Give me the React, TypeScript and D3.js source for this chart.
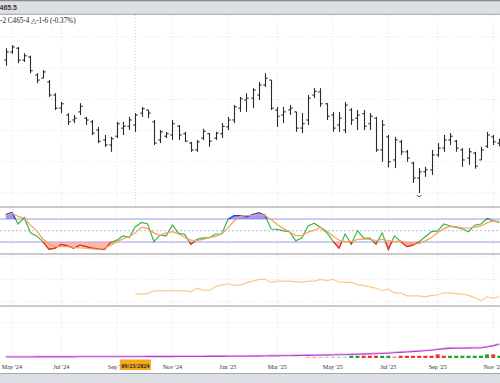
import React from 'react';
import * as d3 from 'd3';

// ---- data (weekly bars, Mondays) ----
const START = new Date(2024, 3, 29);
const END = new Date(2025, 10, 11);
const TICK_MONTHS = [0, 2, 4, 6, 8, 10];
const CROSS_DATE = new Date(2024, 8, 23);
const CROSS_LABEL = '09/23/2024';
const HEADER_PRICE = '465.5';
const HEADER_TEXT = '-2 C465-4 \u25B3-1-6 (-0.37%)';

const OPEN = [593, 606, 612, 593, 598, 569, 564, 558, 537, 516,
  505, 497, 510, 500, 494, 481, 465, 457, 471, 484,
  487, 489, 508, 513, 494, 465, 471, 473, 487, 475,
  460, 449, 468, 475, 468, 475, 486, 497, 516, 529,
  532, 537, 553, 561, 513, 505, 513, 510, 484, 497,
  537, 542, 523, 505, 489, 481, 513, 500, 507, 491,
  500, 449, 470, 433, 462, 446, 428, 404, 414, 417,
  441, 452, 465, 463, 449, 436, 444, 433, 455, 470,
  460];
const HIGH = [612, 617, 614, 604, 600, 572, 577, 561, 540, 526,
  508, 505, 524, 502, 497, 486, 473, 470, 494, 494,
  502, 508, 518, 513, 497, 481, 478, 497, 489, 478,
  462, 465, 483, 476, 478, 492, 502, 521, 534, 540,
  548, 558, 572, 561, 518, 518, 521, 510, 508, 537,
  548, 548, 524, 510, 510, 526, 516, 513, 513, 508,
  502, 497, 473, 470, 465, 449, 430, 420, 422, 449,
  460, 473, 476, 465, 452, 452, 446, 454, 478, 473,
  467];
const LOW = [584, 603, 588, 590, 572, 556, 564, 534, 513, 508,
  489, 492, 505, 489, 473, 460, 454, 446, 468, 473,
  481, 478, 502, 500, 457, 460, 468, 465, 465, 462,
  446, 446, 465, 454, 465, 468, 481, 492, 510, 510,
  516, 529, 550, 513, 486, 492, 505, 478, 476, 489,
  532, 518, 497, 478, 478, 476, 489, 481, 481, 481,
  446, 430, 421, 420, 441, 430, 396, 380, 406, 409,
  438, 446, 457, 446, 422, 425, 419, 433, 452, 457,
  455];
const CLOSE = [606, 614, 593, 600, 576, 561, 574, 537, 516, 523,
  494, 500, 519, 497, 476, 463, 457, 467, 491, 487,
  497, 505, 515, 508, 460, 478, 475, 491, 473, 463,
  449, 462, 479, 463, 476, 487, 497, 518, 531, 532,
  545, 553, 564, 516, 503, 510, 516, 484, 491, 532,
  543, 523, 503, 484, 500, 521, 497, 505, 487, 503,
  449, 489, 430, 465, 446, 436, 404, 414, 417, 441,
  452, 465, 471, 452, 433, 446, 423, 449, 473, 462,
  465.5];

const STOCH_K = [92, 97, 67, 83, 44, 36, 21, 1, 4, 14,
  10, 4, 12, 8, 4, 2, 1, 19, 25, 36,
  32, 60, 71, 67, 21, 38, 36, 64, 43, 40,
  14, 27, 31, 31, 41, 41, 79, 89, 89, 86,
  92, 96, 90, 54, 53, 49, 47, 23, 31, 62,
  69, 58, 45, 23, 4, 41, 15, 50, 30, 30,
  15, 44, 1, 36, 21, 8, 12, 21, 34, 47,
  49, 67, 62, 58, 54, 47, 64, 67, 81, 76,
  71];
const STOCH_D = [89, 95, 87, 82, 64, 49, 28, 15, 8, 8,
  8, 6, 5, 4, 2, 1, 4, 12, 21, 28,
  34, 44, 59, 55, 44, 37, 44, 47, 41, 32,
  25, 24, 27, 32, 35, 41, 57, 75, 87, 89,
  90, 93, 89, 79, 66, 55, 46, 37, 37, 46,
  51, 59, 49, 36, 25, 21, 21, 27, 28, 27,
  24, 27, 24, 21, 23, 17, 15, 16, 23, 32,
  45, 55, 61, 60, 57, 56, 59, 62, 70, 75,
  74];
const STOCH_BANDS = [20, 50, 80];

const PANE3_START = 21;
const PANE3 = [317, 317, 318, 324, 324, 324, 325, 324, 324, 322,
  330, 326, 325, 334, 337, 340, 337, 337, 342, 346,
  350, 350, 343, 346, 346, 346, 345, 343, 346, 346,
  350, 347, 350, 344, 343, 343, 338, 336, 333, 330,
  325, 328, 319, 320, 313, 313, 313, 311, 314, 315,
  320, 319, 318, 317, 314, 309, 302, 311, 308, 311];
const PANE3_GRID = [300, 350, 400];

const PURPLE = [0, 0, 0, 0, 0, 0.6, 0.6, 0.6, 0.6, 0.6,
  0.6, 0.6, 1.2, 1.2, 1.2, 1.2, 1.2, 1.2, 1.7, 1.7,
  1.7, 1.7, 1.7, 2.3, 2.3, 2.3, 2.3, 2.3, 2.9, 2.9,
  2.9, 2.9, 2.9, 3.5, 3.5, 3.5, 4, 4, 4.6, 4.6,
  5.2, 5.2, 5.8, 6.4, 6.4, 7, 7.5, 8.1, 8.7, 9.3,
  9.9, 10.4, 11, 11.6, 12.8, 13.3, 14.5, 15.7, 16.8, 18,
  19.1, 20.3, 22, 24.4, 26.7, 29, 31.3, 33.6, 36, 38.9,
  43.5, 47.6, 50.5, 51, 51, 51.6, 52.2, 52.8, 58, 65,
  74];
const HIST_START = 49;
const HIST = [-0.3, -0.3, -0.3, 0.3, 0.3, 0.3, 0.3, 1, 1, -1,
  -1, -1, 1, 1, -0.5, -1, -1, -1, -1, -1,
  -1, -2, -1, 1, 1, 1, 1, 1, 1, 2,
  -2, 1];
const PANE4_GRID = [200];
const PRICE_GRID = [380, 430, 480, 530, 580, 630];

export default function App() {
  const W = 500, H = 383;
  const DATES = d3.timeMonday.range(START, END);
  const x = d3.scaleTime().domain([DATES[0], DATES[DATES.length - 1]]).range([5.8, 499.4]);
  const yP = d3.scaleLinear().domain([380, 630]).range([193, 37]);
  const yS = d3.scaleLinear().domain([0, 100]).range([249.7, 211.4]);
  const y3 = d3.scaleLinear().domain([300, 400]).range([301.7, 256.9]);
  const y4 = d3.scaleLinear().domain([0, 300]).range([357, 305.5]);
  const hH = d3.scaleLinear().domain([0, 2]).range([0.9, 3.6]);
  const hOp = d3.scaleLinear().domain([0.3, 1]).range([0.35, 0.95]).clamp(true);

  const ticks = DATES.filter(d => d.getDate() <= 7 && TICK_MONTHS.includes(d.getMonth()));
  const fmt = d3.timeFormat("%b '%y");

  const xi = (i: number) => x(DATES[i]);
  const kLine = d3.line<number>().x((d, i) => xi(i)).y(d => yS(d));
  const areaUp = d3.area<number>().x((d, i) => xi(i)).y0(yS(80)).y1(d => yS(d));
  const areaDn = d3.area<number>().x((d, i) => xi(i)).y0(yS(20)).y1(d => yS(d));
  const p3Line = d3.line<number>().x((d, i) => xi(i + PANE3_START)).y(d => y3(d)).curve(d3.curveLinear);
  const p4Line = d3.line<number>().x((d, i) => xi(i)).y(d => y4(d));

  const lowIdx = d3.minIndex(LOW);
  const lx = xi(lowIdx), ly = yP(LOW[lowIdx]);
  const cx = x(CROSS_DATE);

  const serif = "'Liberation Serif', 'Times New Roman', serif";
  const sans = "'Liberation Sans', Arial, sans-serif";

  return (
    <svg width={W} height={H} style={{ position: 'absolute', left: 0, top: 0, background: '#fff' }}
      xmlns="http://www.w3.org/2000/svg">
      <defs>
        <clipPath id="above80"><rect x={0} y={207} width={W} height={yS(80) - 207} /></clipPath>
        <clipPath id="below20"><rect x={0} y={yS(20)} width={W} height={254 - yS(20)} /></clipPath>
        <clipPath id="stochPane"><rect x={0} y={207} width={W} height={47} /></clipPath>
      </defs>
      <rect x={0} y={0} width={W} height={H} fill="#fff" />

      {/* vertical grid */}
      {ticks.map((d, i) => (
        <line key={'vg' + i} x1={x(d)} x2={x(d)} y1={15} y2={357} stroke="#dedede" strokeWidth={0.8} strokeDasharray="1,2" />
      ))}
      {/* horizontal price grid */}
      {PRICE_GRID.map((p, i) => (
        <line key={'hg' + i} x1={0} x2={W} y1={yP(p)} y2={yP(p)} stroke="#dedede" strokeWidth={0.8} strokeDasharray="1,2" />
      ))}
      {PANE3_GRID.map((p, i) => (
        <line key={'g3' + i} x1={0} x2={W} y1={y3(p)} y2={y3(p)} stroke="#dedede" strokeWidth={0.8} strokeDasharray="1,2" />
      ))}
      {PANE4_GRID.map((p, i) => (
        <line key={'g4' + i} x1={0} x2={W} y1={y4(p)} y2={y4(p)} stroke="#dedede" strokeWidth={0.8} strokeDasharray="1,2" />
      ))}

      {/* crosshair */}
      <line x1={cx} x2={cx} y1={15} y2={207} stroke="#ffcf80" strokeWidth={1} strokeDasharray="1,2" />

      {/* OHLC bars */}
      <g stroke="#2b2b2b" strokeWidth={1.1}>
        {DATES.map((d, i) => {
          const bx = Math.round(xi(i)) + 0.5;
          return (
            <g key={'b' + i}>
              <line x1={bx} x2={bx} y1={yP(HIGH[i])} y2={yP(LOW[i])} />
              <line x1={bx - 2.2} x2={bx} y1={yP(OPEN[i])} y2={yP(OPEN[i])} />
              <line x1={bx} x2={bx + 2.2} y1={yP(CLOSE[i])} y2={yP(CLOSE[i])} />
            </g>
          );
        })}
      </g>
      {/* swing low marker */}
      <path d={`M${lx - 2.2},${ly + 2} Q${lx},${ly + 5.5} ${lx + 2.2},${ly + 2}`} fill="none" stroke="#333" strokeWidth={0.9} />

      {/* pane separators */}
      {[207, 254, 306].map((y, i) => (
        <line key={'sep' + i} x1={0} x2={W} y1={y} y2={y} stroke="#b8b8b8" strokeWidth={1.4} />
      ))}

      {/* stochastic pane */}
      <g clipPath="url(#stochPane)">
        {STOCH_BANDS.map((b, i) => (
          <line key={'sb' + i} x1={0} x2={W} y1={yS(b)} y2={yS(b)} stroke={b === 50 ? '#c4c4ec' : '#9c9cdc'}
            strokeWidth={b === 50 ? 1.2 : 1} strokeDasharray={b === 50 ? '2,2' : undefined} />
        ))}
        <path d={areaUp(STOCH_K) || ''} fill="#7a7aff" fillOpacity={0.75} clipPath="url(#above80)" />
        <path d={areaDn(STOCH_K) || ''} fill="#ff9a9a" fillOpacity={0.7} clipPath="url(#below20)" />
        <path d={kLine(STOCH_K) || ''} fill="none" stroke="#3cb54a" strokeWidth={1.2} />
        <path d={kLine(STOCH_K) || ''} fill="none" stroke="#3333ff" strokeWidth={1.2} clipPath="url(#above80)" />
        <path d={kLine(STOCH_K) || ''} fill="none" stroke="#ff2020" strokeWidth={1.2} clipPath="url(#below20)" />
        <path d={kLine(STOCH_D) || ''} fill="none" stroke="#f8a05a" strokeWidth={1.2} />
      </g>

      {/* pane 3 */}
      <path d={p3Line(PANE3) || ''} fill="none" stroke="#ffc888" strokeWidth={1.2} />

      {/* pane 4 histogram dashes */}
      {HIST.map((v, k) => {
        const i = k + HIST_START;
        const h = hH(Math.abs(v));
        return (
          <rect key={'h' + k} x={xi(i) - 2} y={358 - h} width={4} height={h}
            fill={v >= 0 ? '#14a01e' : '#ee2a1e'} fillOpacity={hOp(Math.abs(v))} />
        );
      })}
      <path d={p4Line(PURPLE) || ''} fill="none" stroke="#f0a8f0" strokeWidth={1} transform="translate(0,-0.8)" />
      <path d={p4Line(PURPLE) || ''} fill="none" stroke="#b43cd2" strokeWidth={1.1} />

      {/* x axis labels */}
      {ticks.map((d, i) => (
        <text key={'xl' + i} x={x(d)} y={369} textAnchor="middle" fontFamily={serif} fontSize={6.2} fill="#333">{fmt(d)}</text>
      ))}
      {/* crosshair date label */}
      <rect x={cx - 15.5} y={359.5} width={31} height={10.5} fill="#f7a81b" />
      <text x={cx} y={367.6} textAnchor="middle" fontFamily={serif} fontSize={6.2} fontWeight="bold" fill="#222">{CROSS_LABEL}</text>

      {/* bottom band */}
      <rect x={0} y={373} width={W} height={10} fill="#dcdfe3" />
      <line x1={0} x2={W} y1={373.5} y2={373.5} stroke="#a8a8a8" strokeWidth={1} />

      {/* header */}
      <rect x={0} y={0} width={W} height={14} fill="#dcdfe3" />
      <line x1={0} x2={W} y1={0.6} y2={0.6} stroke="#8a8a8a" strokeWidth={1.2} />
      <line x1={0} x2={W} y1={14.3} y2={14.3} stroke="#a0a0a0" strokeWidth={1} />
      <text x={-0.5} y={10} fontFamily={sans} fontSize={7} fontWeight="bold" fill="#3a3a3a">{HEADER_PRICE}</text>
      <text x={0} y={23} fontFamily={serif} fontSize={7.2} fill="#222">{HEADER_TEXT}</text>
    </svg>
  );
}
